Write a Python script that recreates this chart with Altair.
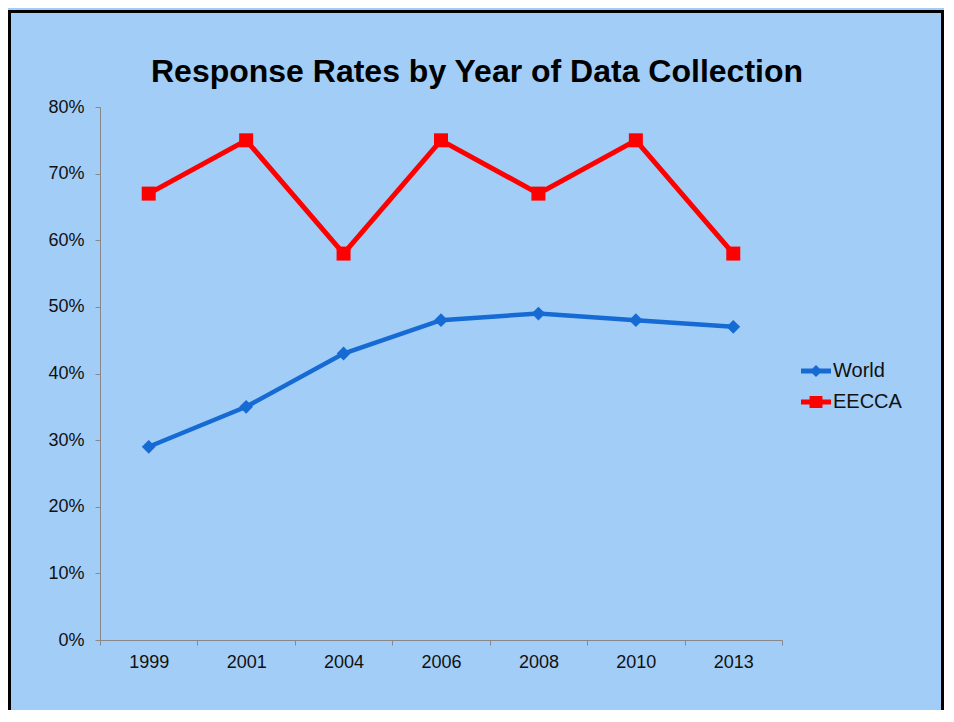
import altair as alt
import pandas as pd

years = ["1999", "2001", "2004", "2006", "2008", "2010", "2013"]
world = [0.29, 0.35, 0.43, 0.48, 0.49, 0.48, 0.47]
eecca = [0.67, 0.75, 0.58, 0.75, 0.67, 0.75, 0.58]
series = ["World", "EECCA"]
colors = ["#166ad4", "#ff0000"]

rows = []
for y, w, e in zip(years, world, eecca):
    rows.append({"year": y, "series": "World", "rate": w})
    rows.append({"year": y, "series": "EECCA", "rate": e})
df = pd.DataFrame(rows)

FONT = "Liberation Sans"
W, H = 682, 533

x_enc = alt.X("year:N", sort=years, bandPosition=0.5,
              scale=alt.Scale(type="band", paddingInner=0, paddingOuter=0),
              axis=alt.Axis(title=None, labelAngle=0, tickBand="extent",
                            labelFontSize=18, labelColor="#111", labelFont=FONT,
                            domainColor="#888", tickColor="#888", tickSize=5,
                            labelPadding=8, grid=False))
y_enc = alt.Y("rate:Q", scale=alt.Scale(domain=[0, 0.8], nice=False),
              axis=alt.Axis(title=None, format=".0%", values=[0, 0.1, 0.2, 0.3, 0.4, 0.5, 0.6, 0.7, 0.8],
                            labelFontSize=18, labelColor="#111", labelFont=FONT,
                            domainColor="#888", tickColor="#888", tickSize=5,
                            labelPadding=11, grid=False))

base = alt.Chart(df)

def series_layers(name, col, shape, size, sw):
    sub = base.transform_filter(alt.datum.series == name)
    ln = sub.mark_line(strokeWidth=sw, color=col).encode(x=x_enc, y=y_enc)
    pt = sub.mark_point(shape=shape, filled=True, size=size, opacity=1, color=col).encode(x=x_enc, y=y_enc)
    return [ln, pt]

world_sym = "M-1,-0.16L-0.24,-0.16L0,-0.4L0.24,-0.16L1,-0.16L1,0.16L0.24,0.16L0,0.4L-0.24,0.16L-1,0.16Z"
eecca_sym = ("M-1,-0.16L-0.43,-0.16L-0.43,-0.4L0.43,-0.4L0.43,-0.16L1,-0.16L1,0.16L0.43,0.16"
             "L0.43,0.4L-0.43,0.4L-0.43,0.16L-1,0.16Z")

legend_layer = base.transform_filter("false").mark_point(filled=True, size=900, opacity=1).encode(
    x=x_enc, y=y_enc,
    color=alt.Color("series:N", scale=alt.Scale(domain=series, range=colors),
                    legend=alt.Legend(title=None, orient="none", legendX=701, legendY=249,
                                      symbolSize=900, symbolOpacity=1, symbolStrokeWidth=0,
                                      labelFontSize=20, labelFont=FONT, labelColor="#111",
                                      labelOffset=2, rowPadding=6, padding=0)),
    shape=alt.Shape("series:N", scale=alt.Scale(domain=series, range=[world_sym, eecca_sym])),
)

border_df = pd.DataFrame({"k": [0]})
border = alt.Chart(border_df).mark_rect(fillOpacity=0, stroke="black", strokeWidth=3).encode(
    x=alt.value(-90.5), x2=alt.value(W + 160.5), y=alt.value(-95.5), y2=alt.value(H + 120)
)

layers = [border] + series_layers("World", colors[0], "diamond", 190, 4.5) \
    + series_layers("EECCA", colors[1], "square", 196, 5) + [legend_layer]

chart = alt.layer(*layers).properties(
    width=W, height=H,
    title=alt.TitleParams("Response Rates by Year of Data Collection", fontSize=32, font=FONT,
                          fontWeight="bold", color="#000", anchor="middle", dx=36,
                          baseline="alphabetic", offset=-104),
    background="#a2cdf7",
    padding={"left": 92, "top": 99, "right": 162, "bottom": 70},
    autosize=alt.AutoSizeParams(type="none"),
).configure_view(stroke=None)

chart.save("out.html", embed_options={"renderer": "svg", "actions": False})
